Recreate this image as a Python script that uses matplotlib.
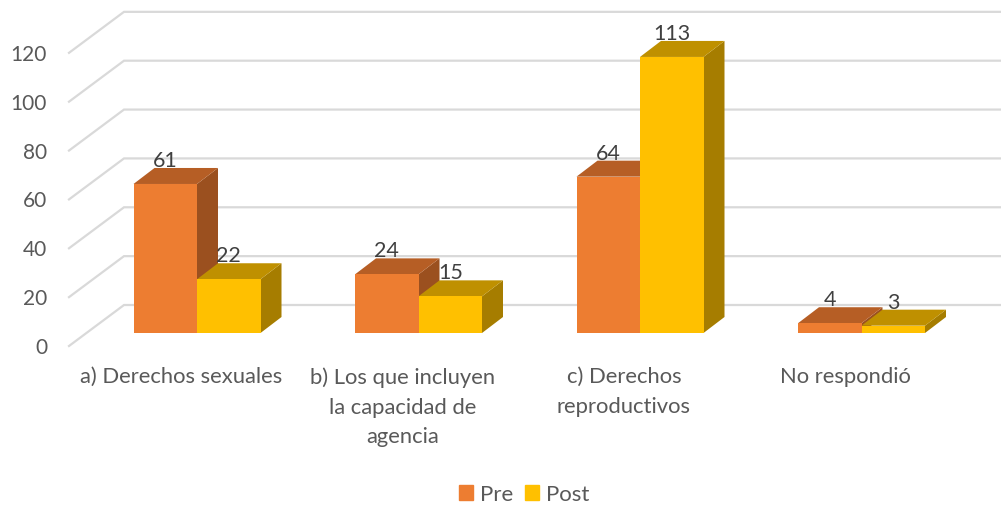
import matplotlib
matplotlib.use("Agg")
import matplotlib.pyplot as plt
from matplotlib.patches import Patch

categories = ["a) Derechos sexuales", "b) Los que incluyen\nla capacidad de\nagencia", "c) Derechos\nreproductivos", "No respondió"]
pre = [61, 24, 64, 4]
post = [22, 15, 113, 3]
grid_values = [0, 20, 40, 60, 80, 100, 120]

plt.rcParams['font.family'] = ['Lato', 'DejaVu Sans']

# pixel scales of the picture
px_cat = 221.5
px_val = 2.443
x0_px = 197
y0_px = 334

fig = plt.figure(figsize=(10.01, 5.06), dpi=100)
ax = fig.add_axes([0, 0, 1, 1])
ax.set_xlim(-x0_px / px_cat, (1001 - x0_px) / px_cat)
ax.set_ylim((y0_px - 506) / px_val, y0_px / px_val)
ax.axis('off')

# depth of the bars, in data units
bar_w = 63.5 / px_cat
dx = 21 / px_cat
dy = 16 / px_val

# floor and wall offsets
front_x = (69 - x0_px) / px_cat
back_x = (124 - x0_px) / px_cat
front_y = -13 / px_val
back_y = 28 / px_val

for v in grid_values:
    ax.plot([front_x, back_x, ax.get_xlim()[1]], [v + front_y, v + back_y, v + back_y],
            color='#D9D9D9', lw=1.6, zorder=1, solid_joinstyle='miter')
    ax.text((47 - x0_px) / px_cat, v + front_y - 1 / px_val, str(v), ha='right', va='center',
            fontsize=15, color='#595959')


def draw_bar(x, h, front, top, side):
    ax.fill([x + bar_w, x + bar_w + dx, x + bar_w + dx, x + bar_w], [0, dy, h + dy, h], color=side, lw=0, zorder=3)
    ax.fill([x, x + bar_w, x + bar_w + dx, x + dx], [h, h, h + dy, h + dy], color=top, lw=0, zorder=3)
    ax.bar(x + bar_w / 2, h, width=bar_w, color=front, lw=0, zorder=3)


for i in range(len(categories)):
    draw_bar(i - bar_w, pre[i], '#ED7D31', '#B65E25', '#9B501F')
for i in range(len(categories)):
    draw_bar(i, post[i], '#FFC000', '#BF9000', '#A67D00')

for i in range(len(categories)):
    ax.text(i - bar_w / 2, pre[i] + 24 / px_val, str(pre[i]), ha='center', va='center',
            fontsize=15.5, color='#404040', zorder=5)
    ax.text(i + bar_w / 2, post[i] + 24 / px_val, str(post[i]), ha='center', va='center',
            fontsize=15.5, color='#404040', zorder=5)

for i, c in enumerate(categories):
    ax.text(i - 16 / px_cat, (y0_px - 367) / px_val, c, ha='center', va='top',
            fontsize=15.8, color='#595959', linespacing=1.62)

handles = [Patch(color='#ED7D31', label='Pre'), Patch(color='#FFC000', label='Post')]
fig.legend(handles=handles, loc='center', bbox_to_anchor=(524 / 1001, 1 - 495 / 506), ncol=2, frameon=False,
           fontsize=16, labelcolor='#595959', handlelength=0.64, handleheight=0.64,
           handletextpad=0.3, columnspacing=0.55)

fig.savefig('out.png', dpi=100)
